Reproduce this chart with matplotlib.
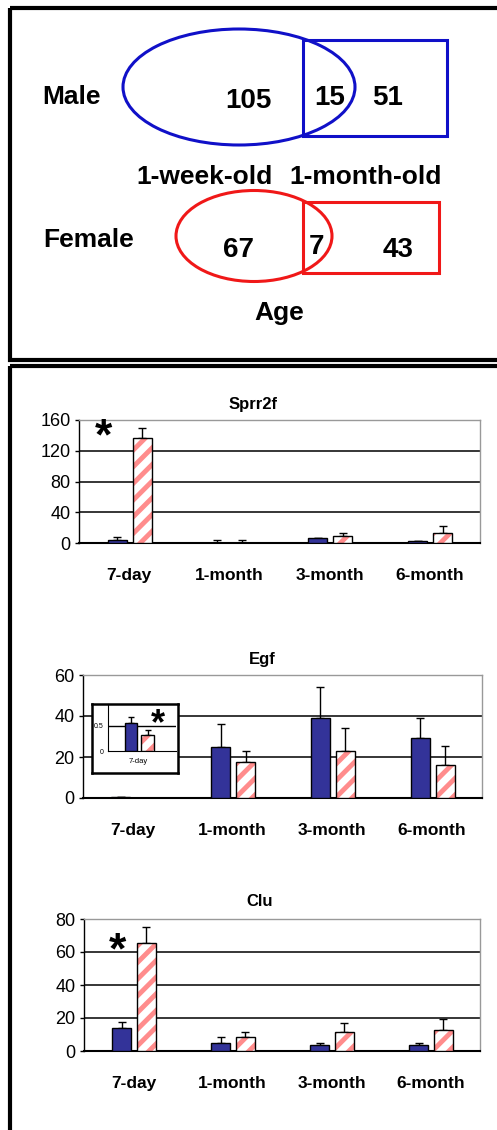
import matplotlib.pyplot as plt
import numpy as np
from matplotlib.patches import Ellipse, Rectangle

plt.rcParams['font.family'] = ['Liberation Sans', 'DejaVu Sans']
plt.rcParams['hatch.linewidth'] = 3.5

W, H = 497, 1130

# venn counts: only 1-week, shared, only 1-month
male_counts = [105, 15, 51]
female_counts = [67, 7, 43]

ages = ['7-day', '1-month', '3-month', '6-month']

sprr2f_male = [4, 0.5, 6.5, 2]
sprr2f_male_err = [4, 3.5, 0, 1]
sprr2f_female = [137, 0.5, 9, 13.5]
sprr2f_female_err = [12, 3.5, 4, 9]

egf_male = [0.5, 24.7, 38.9, 29.1]
egf_male_err = [0, 11.3, 15.4, 9.8]
egf_female = [0.0, 17.7, 23, 16]
egf_female_err = [0, 5.3, 11.3, 9.4]

# zoomed 7-day values for Egf inset
egf7_male = [0.57]
egf7_male_err = [0.12]
egf7_female = [0.33]
egf7_female_err = [0.09]

clu_male = [14.1, 4.8, 3.8, 3.8]
clu_male_err = [3.3, 3.5, 1, 1]
clu_female = [65.3, 8.3, 11.7, 12.7]
clu_female_err = [10.1, 3.4, 5.5, 6.5]

navy = '#333399'
pink = '#ff8c8c'

fig = plt.figure(figsize=(W / 100, H / 100), dpi=100)


def px_axes(l, t, r, b):
    return fig.add_axes([l / W, 1 - b / H, (r - l) / W, (b - t) / H])


# background layer: frames and venn diagram in pixel coords
bg = fig.add_axes([0, 0, 1, 1])
bg.set_xlim(0, W)
bg.set_ylim(H, 0)
bg.axis('off')
bg.add_patch(Rectangle((10, 8), 500, 352, fill=False, lw=3, ec='black'))
bg.add_patch(Rectangle((10, 366), 500, 800, fill=False, lw=3, ec='black'))

blue = '#1010c8'
red = '#f01818'
bg.add_patch(Ellipse((239, 87), 232, 116, fill=False, ec=blue, lw=2.2))
bg.add_patch(Rectangle((303, 40), 144, 96, fill=False, ec=blue, lw=2.2))
bg.add_patch(Ellipse((254, 236), 156, 91, fill=False, ec=red, lw=2.2))
bg.add_patch(Rectangle((303, 202), 136, 71, fill=False, ec=red, lw=2.2))

big = dict(fontsize=19, fontweight='bold', va='center')
bg.text(42, 97, 'Male', ha='left', **big)
bg.text(43, 240, 'Female', ha='left', **big)
bg.text(204, 177, '1-week-old', ha='center', **big)
bg.text(366, 177, '1-month-old', ha='center', **big)
bg.text(279, 313, 'Age', ha='center', **big)
for (x, y), n in zip([(248, 101), (330, 98), (388, 98)], male_counts):
    bg.text(x, y, str(n), ha='center', fontsize=20, fontweight='bold', va='center')
for (x, y), n in zip([(239, 250), (316, 247), (398, 250)], female_counts):
    bg.text(x, y, str(n), ha='center', fontsize=20, fontweight='bold', va='center')


def bar_panel(ax, male, male_err, female, female_err, ymax, step, title, title_x,
              dx=(-0.12, 0.13), w=0.19, labels=None, tick_fs=13):
    x = np.arange(len(male))
    ax.bar(x + dx[0], male, w, color=navy, ec='black', lw=1, zorder=3)
    ax.errorbar(x + dx[0], male, yerr=[np.zeros(len(male)), male_err], fmt='none',
                ecolor='black', elinewidth=1, capsize=3, capthick=1, zorder=2)
    ax.bar(x + dx[1], female, w, color='white', ec=pink, hatch='//', lw=0, zorder=3)
    ax.bar(x + dx[1], female, w, color='none', ec='black', lw=1, zorder=4)
    ax.errorbar(x + dx[1], female, yerr=[np.zeros(len(female)), female_err], fmt='none',
                ecolor='black', elinewidth=1, capsize=3, capthick=1, zorder=2)
    ticks = np.arange(0, ymax + step / 2, step)
    for t in ticks[1:-1]:
        ax.axhline(t, color='black', lw=1.1, zorder=1)
    ax.set_ylim(0, ymax)
    ax.set_yticks(ticks)
    ax.set_yticklabels([f'{t:g}' for t in ticks])
    ax.set_xlim(-0.5, len(male) - 0.5)
    ax.set_xticks(x)
    ax.set_xticklabels(labels if labels else ages, fontweight='bold', fontsize=12.5)
    ax.tick_params(axis='x', length=0, pad=18)
    ax.tick_params(axis='y', length=3, width=1, labelsize=tick_fs, pad=3)
    for s in ('top', 'right'):
        ax.spines[s].set_color('#999999')
        ax.spines[s].set_linewidth(1)
    ax.spines['left'].set_linewidth(1)
    ax.spines['bottom'].set_linewidth(1.5)
    if title:
        ax.text(title_x, 1.13, title, transform=ax.transAxes, ha='center', va='center',
                fontsize=12, fontweight='bold')


ax1 = px_axes(79, 420, 480, 543)
bar_panel(ax1, sprr2f_male, sprr2f_male_err, sprr2f_female, sprr2f_female_err,
          160, 40, 'Sprr2f', 0.434)
ax1.text(-0.26, 137, '*', fontsize=32, fontweight='bold', ha='center', va='center')

ax2 = px_axes(83, 675, 482, 798)
bar_panel(ax2, egf_male, egf_male_err, egf_female, egf_female_err,
          60, 20, 'Egf', 0.449)

# inset for the 7-day Egf values
box = px_axes(92, 704, 178, 773)
box.set_xticks([])
box.set_yticks([])
for s in box.spines.values():
    s.set_linewidth(1.8)
box.set_facecolor('white')

ins = px_axes(108, 704, 176, 751)
ins.patch.set_alpha(0)
x0 = np.arange(1)
ins.bar(x0 - 0.112, egf7_male, 0.18, color=navy, ec='black', lw=1, zorder=3)
ins.errorbar(x0 - 0.112, egf7_male, yerr=[[0], egf7_male_err], fmt='none',
             ecolor='black', elinewidth=1, capsize=2.5, zorder=2)
ins.bar(x0 + 0.131, egf7_female, 0.18, color='white', ec=pink, hatch='//', lw=0, zorder=3)
ins.bar(x0 + 0.131, egf7_female, 0.18, color='none', ec='black', lw=1, zorder=4)
ins.errorbar(x0 + 0.131, egf7_female, yerr=[[0], egf7_female_err], fmt='none',
             ecolor='black', elinewidth=1, capsize=2.5, zorder=2)
ins.axhline(0.5, color='black', lw=1, zorder=1)
ins.set_xlim(-0.45, 0.55)
ins.set_ylim(0, 0.94)
ins.set_yticks([0, 0.5])
ins.set_yticklabels(['0', '0.5'])
ins.set_xticks([0])
ins.set_xticklabels(['7-day'])
ins.tick_params(axis='y', length=0, labelsize=5, pad=3)
ins.tick_params(axis='x', length=0, labelsize=5.5, pad=5)
ins.spines['top'].set_visible(False)
ins.spines['right'].set_visible(False)
ins.text(0.285, 0.52, '*', fontsize=26, fontweight='bold', ha='center', va='center')

ax3 = px_axes(84, 919, 480, 1051)
bar_panel(ax3, clu_male, clu_male_err, clu_female, clu_female_err,
          80, 20, 'Clu', 0.444)
ax3.text(-0.157, 60, '*', fontsize=32, fontweight='bold', ha='center', va='center')

fig.savefig('out.png', dpi=100)
